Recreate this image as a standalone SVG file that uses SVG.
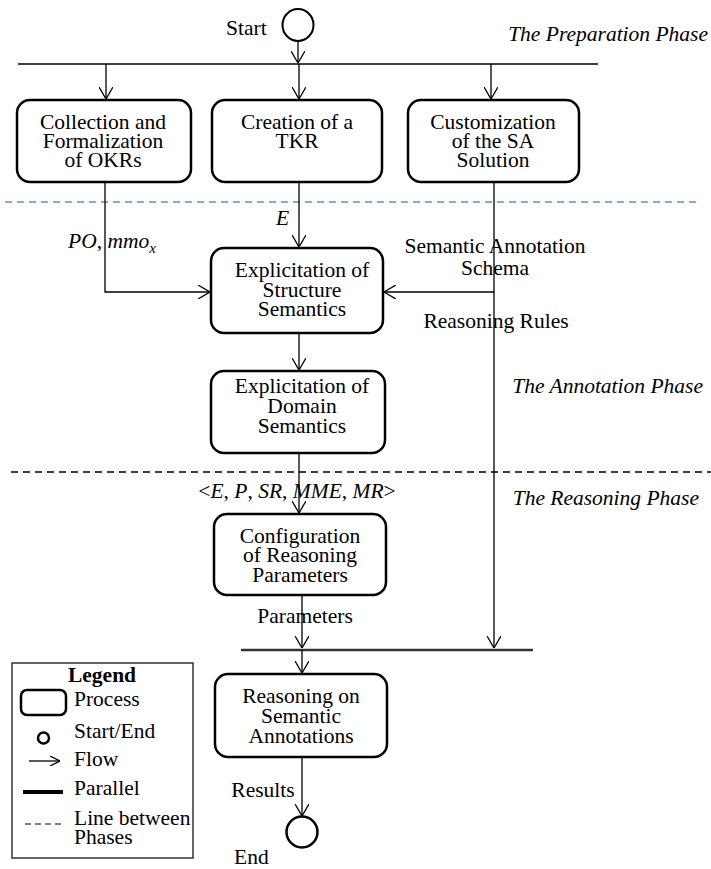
<svg xmlns="http://www.w3.org/2000/svg" width="711" height="869" viewBox="0 0 711 869" font-family="'Liberation Serif', 'DejaVu Serif', serif">
<style>
text{font-family:'Liberation Serif','DejaVu Serif',serif;font-size:21.5px;fill:#000}
.c{text-anchor:middle}
.it{font-style:italic}
.box{fill:#fff;stroke:#000;stroke-width:2.5}
.ln{fill:none;stroke:#000;stroke-width:1.3}
.bar{stroke:#000;stroke-width:1.6}
</style>
<defs>
<marker id="ah" viewBox="0 0 12 14" refX="12" refY="7" markerWidth="12" markerHeight="14" markerUnits="userSpaceOnUse" orient="auto">
<path d="M0,0 L12,7 L0,14" fill="none" stroke="#000" stroke-width="1.3"/>
</marker>
<marker id="ahs" viewBox="0 0 10 10" refX="10" refY="5" markerWidth="10" markerHeight="10" markerUnits="userSpaceOnUse" orient="auto">
<path d="M0,0 L10,5 L0,10" fill="none" stroke="#000" stroke-width="1.3"/>
</marker>
</defs>
<rect width="711" height="869" fill="#fff"/>
<g id="phases">
<line x1="5" y1="202" x2="696" y2="202" stroke="#5b8fd1" stroke-width="1.5" stroke-dasharray="7,5"/>
<line x1="11" y1="472" x2="711" y2="472" stroke="#000" stroke-width="1.5" stroke-dasharray="7,5"/>
<text x="708" y="41" text-anchor="end" class="it">The Preparation Phase</text>
<text x="703" y="393" text-anchor="end" class="it">The Annotation Phase</text>
<text x="699" y="505" text-anchor="end" class="it">The Reasoning Phase</text>
</g>
<g id="bars">
<line x1="18" y1="64" x2="598" y2="64" class="bar"/>
<line x1="241" y1="650" x2="533" y2="650" stroke="#333" stroke-width="2.5"/>
</g>
<g id="connectors">
<line x1="298" y1="41" x2="298" y2="63" class="ln" marker-end="url(#ah)"/>
<line x1="106" y1="64" x2="106" y2="99" class="ln" marker-end="url(#ah)"/>
<line x1="299" y1="64" x2="299" y2="99" class="ln" marker-end="url(#ah)"/>
<line x1="491" y1="64" x2="491" y2="99" class="ln" marker-end="url(#ah)"/>
<polyline points="105,182 105,292 210,292" class="ln" marker-end="url(#ah)"/>
<line x1="299" y1="182" x2="299" y2="247" class="ln" marker-end="url(#ah)"/>
<line x1="494" y1="182" x2="494" y2="648" class="ln" marker-end="url(#ah)"/>
<line x1="494" y1="292" x2="384" y2="292" class="ln" marker-end="url(#ah)"/>
<line x1="299" y1="333" x2="299" y2="370" class="ln" marker-end="url(#ah)"/>
<line x1="299" y1="453" x2="299" y2="513" class="ln" marker-end="url(#ah)"/>
<line x1="302" y1="595" x2="302" y2="648" class="ln" marker-end="url(#ah)"/>
<line x1="302" y1="650" x2="302" y2="673" class="ln" marker-end="url(#ah)"/>
<line x1="302" y1="757" x2="302" y2="816" class="ln" marker-end="url(#ah)"/>
<text x="276" y="225" class="it" font-size="22">E</text>
<text x="68" y="248" class="it">PO<tspan font-style="normal">, </tspan>mmo<tspan font-size="15" dy="5">x</tspan></text>
<text x="495" y="253" class="c">Semantic Annotation</text>
<text x="495" y="275" class="c">Schema</text>
<text x="496" y="328" class="c">Reasoning Rules</text>
<text x="297" y="498" class="c"><tspan>&lt;</tspan><tspan class="it">E</tspan>, <tspan class="it">P</tspan>, <tspan class="it">SR</tspan>, <tspan class="it">MME</tspan>, <tspan class="it">MR</tspan>&gt;</text>
<text x="305" y="623" class="c">Parameters</text>
<text x="263" y="797" class="c">Results</text>
</g>
<g id="start">
<ellipse cx="298" cy="25" rx="15.5" ry="16" fill="#fff" stroke="#000" stroke-width="2"/>
<text x="226" y="35">Start</text>
</g>
<g id="end">
<ellipse cx="302" cy="832" rx="15.5" ry="15.5" fill="#fff" stroke="#000" stroke-width="2.5"/>
<text x="234" y="864">End</text>
</g>
<g id="n-okr">
<rect x="17" y="100" width="174" height="82" rx="13" class="box"/>
<text x="103" y="129" class="c">Collection and</text>
<text x="103" y="148" class="c">Formalization</text>
<text x="103" y="167" class="c">of OKRs</text>
</g>
<g id="n-tkr">
<rect x="212" y="100" width="170" height="82" rx="13" class="box"/>
<text x="297" y="129" class="c">Creation of a</text>
<text x="297" y="148" class="c">TKR</text>
</g>
<g id="n-sa">
<rect x="408" y="100" width="171" height="82" rx="13" class="box"/>
<text x="493" y="129" class="c">Customization</text>
<text x="493" y="148" class="c">of the SA</text>
<text x="493" y="167" class="c">Solution</text>
</g>
<g id="n-ss">
<rect x="211" y="248" width="172" height="85" rx="13" class="box"/>
<text x="302" y="277" class="c">Explicitation of</text>
<text x="302" y="297" class="c">Structure</text>
<text x="302" y="316" class="c">Semantics</text>
</g>
<g id="n-ds">
<rect x="211" y="371" width="174" height="82" rx="13" class="box"/>
<text x="302" y="393" class="c">Explicitation of</text>
<text x="302" y="413" class="c">Domain</text>
<text x="302" y="433" class="c">Semantics</text>
</g>
<g id="n-crp">
<rect x="214" y="514" width="172" height="81" rx="13" class="box"/>
<text x="300" y="543" class="c">Configuration</text>
<text x="300" y="562" class="c">of Reasoning</text>
<text x="300" y="582" class="c">Parameters</text>
</g>
<g id="n-rsa">
<rect x="215" y="674" width="172" height="83" rx="13" class="box"/>
<text x="301" y="703" class="c">Reasoning on</text>
<text x="301" y="723" class="c">Semantic</text>
<text x="301" y="743" class="c">Annotations</text>
</g>
<g id="legend">
<rect x="12" y="663" width="181" height="195" fill="#fff" stroke="#333" stroke-width="1.5"/>
<text x="102" y="682" class="c" font-weight="bold">Legend</text>
<rect x="21" y="690" width="45" height="25" rx="6" fill="#fff" stroke="#000" stroke-width="2.5"/>
<text x="74" y="706">Process</text>
<circle cx="43.5" cy="738" r="5.5" fill="#fff" stroke="#000" stroke-width="2.5"/>
<text x="74" y="738">Start/End</text>
<line x1="29" y1="761" x2="60" y2="761" class="ln" marker-end="url(#ahs)"/>
<text x="74" y="766">Flow</text>
<line x1="23" y1="792" x2="63" y2="792" stroke="#000" stroke-width="4"/>
<text x="74" y="795">Parallel</text>
<line x1="25" y1="824" x2="63" y2="824" stroke="#000" stroke-width="1.2" stroke-dasharray="6,4"/>
<text x="74" y="825">Line between</text>
<text x="74" y="844">Phases</text>
</g>
</svg>
